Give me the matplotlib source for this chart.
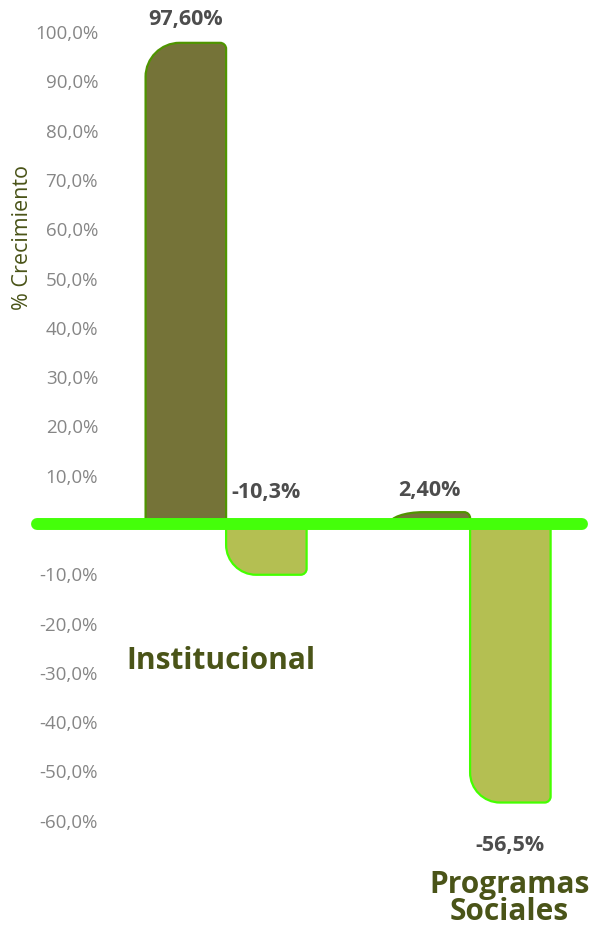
import numpy as np
import matplotlib.pyplot as plt
from matplotlib.path import Path
from matplotlib.patches import PathPatch

plt.rcParams['font.family'] = ['Open Sans', 'DejaVu Sans']

categories = ['Institucional', 'Programas\nSociales']
serie_a = [97.6, 2.4]       # barras oscuras
serie_b = [-10.3, -56.5]    # barras claras
labels_a = ['97,60%', '2,40%']
labels_b = ['-10,3%', '-56,5%']
ticks = [-60, -50, -40, -30, -20, -10, 10, 20, 30, 40, 50, 60, 70, 80, 90, 100]
tick_labels = ['%d,0%%' % t for t in ticks]

DARK = '#757338'
DARK_EDGE = '#4f9400'
LIGHT = '#b4bf52'
LIGHT_EDGE = '#44ff00'
ZERO = '#44ff0a'
TXT = '#4d4d4d'
CAT = '#4a5418'

W, H = 598, 928
fig = plt.figure(figsize=(W / 100, H / 100), dpi=100)
ax = fig.add_axes([37 / W, 0, (582 - 37) / W, 1])

px_x = 244.0   # pixels per unidad x
px_y = 493.0   # pixels per unidad y (100%)
ax.set_xlim(-0.775, -0.775 + 545 / px_x)
ax.set_ylim(-(H - 525) / px_y, 525 / px_y)


def rounded_bar(x0, width, value, big, small, **kw):
    # barra con la esquina exterior izquierda muy redondeada
    v = value / 100.0
    s = np.sign(v)
    x1 = x0 + width
    rxb, ryb = big / px_x, min(big / px_y, abs(v))
    rxs, rys = small / px_x, min(small / px_y, abs(v))
    k = 0.55
    verts = [(x0, 0), (x1, 0), (x1, v - s * rys),
             (x1, v - s * rys * (1 - k)), (x1 - rxs * (1 - k), v), (x1 - rxs, v),
             (x0 + rxb, v),
             (x0 + rxb * (1 - k), v), (x0, v - s * ryb * (1 - k)), (x0, v - s * ryb),
             (x0, 0)]
    codes = [Path.MOVETO, Path.LINETO, Path.LINETO,
             Path.CURVE4, Path.CURVE4, Path.CURVE4,
             Path.LINETO,
             Path.CURVE4, Path.CURVE4, Path.CURVE4,
             Path.CLOSEPOLY]
    ax.add_patch(PathPatch(Path(verts, codes), **kw))


bw = 0.33
x = np.arange(len(categories))
for i in range(len(categories)):
    rounded_bar(x[i] - bw, bw, serie_a[i], 34, 6,
                facecolor=DARK, edgecolor=DARK_EDGE, lw=1.6, zorder=2)
    rounded_bar(x[i], bw, serie_b[i], 30, 6,
                facecolor=LIGHT, edgecolor=LIGHT_EDGE, lw=1.6, zorder=2)

ax.axhline(0, color=ZERO, lw=8.6, solid_capstyle='round', zorder=3, clip_on=False)

# etiquetas de valor
lbl = dict(ha='center', va='center', fontsize=15.5, fontweight='bold', color=TXT)
ax.text(x[0] - bw / 2, serie_a[0] / 100 + 0.05, labels_a[0], **lbl)
ax.text(x[1] - bw / 2, serie_a[1] / 100 + 0.045, labels_a[1], **lbl)
ax.text(x[0] + bw / 2, 0.065, labels_b[0], **lbl)
ax.text(x[1] + bw / 2, serie_b[1] / 100 - 0.085, labels_b[1], **lbl)

# nombres de categoria
ax.text(x[0] - 0.02, -0.275, categories[0], ha='center', va='center',
        fontsize=21.5, fontweight='bold', color=CAT)
ax.text(x[1] + 0.16, -0.757, categories[1], ha='center', va='center',
        fontsize=21.5, fontweight='bold', color=CAT, linespacing=0.88)

ax.set_yticks(np.array(ticks) / 100.0)
ax.set_yticklabels(tick_labels)
ax.tick_params(axis='y', length=0, pad=-44, labelsize=13.5, labelcolor='#868686')
ax.set_xticks([])
for sp in ax.spines.values():
    sp.set_visible(False)
ax.patch.set_alpha(0)

fig.text(22 / W, 1 - 238 / H, '% Crecimiento', rotation=90, ha='center', va='center',
         fontsize=15.5, color=CAT)

fig.savefig('out.png', dpi=100)
